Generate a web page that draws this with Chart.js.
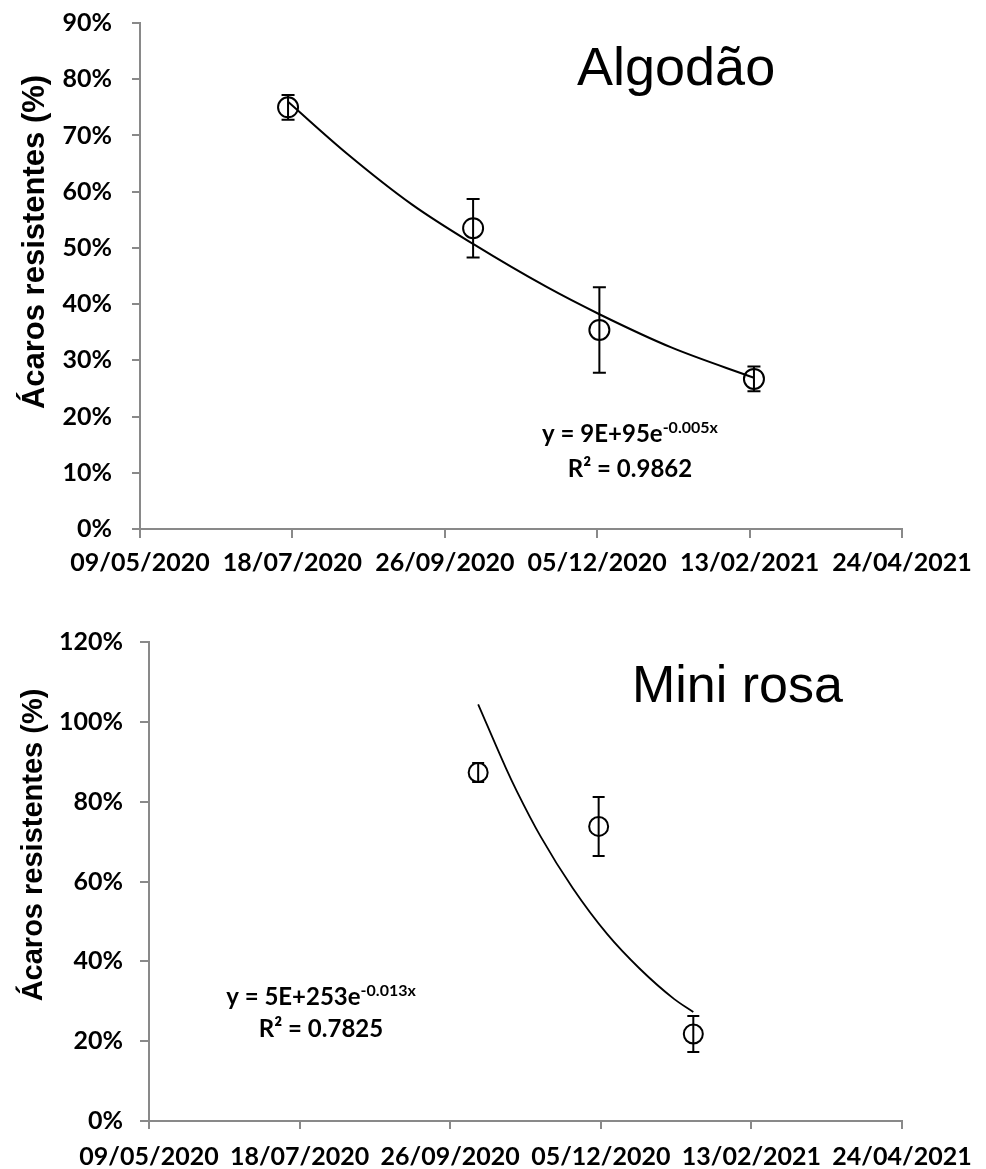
<!DOCTYPE html>
<html><head><meta charset="utf-8">
<script src="https://cdn.jsdelivr.net/npm/chart.js@4.4.0/dist/chart.umd.min.js"></script>
<style>
html,body{margin:0;padding:0;background:#fff;}
#wrap1{position:absolute;left:0;top:0;width:986px;height:585px;}
#wrap2{position:absolute;left:0;top:585px;width:986px;height:584px;}
canvas{display:block;}
</style></head><body>
<div id="wrap1"><canvas id="c1" width="986" height="585"></canvas></div>
<div id="wrap2"><canvas id="c2" width="986" height="584"></canvas></div>
<script>
// ---------- DATA ----------
const xTickLabels = ['09/05/2020','18/07/2020','26/09/2020','05/12/2020','13/02/2021','24/04/2021'];

const algodaoYTicks = [0,10,20,30,40,50,60,70,80,90];
const algodaoDates  = ['16/07/2020','09/10/2020','06/12/2020','15/02/2021'];
const algodaoValues = [75.0, 53.5, 35.4, 26.7];
const algodaoErrors = [2.2, 5.2, 7.6, 2.2];
const algodaoTrendDates  = ['16/07/2020','12/08/2020','11/09/2020','09/10/2020','12/11/2020','06/12/2020','08/01/2021','15/02/2021'];
const algodaoTrendValues = [76.0, 66.8, 57.7, 50.7, 43.0, 38.2, 32.3, 26.9];

const miniYTicks = [0,20,40,60,80,100,120];
const miniDates  = ['09/10/2020','04/12/2020','17/01/2021'];
const miniValues = [87.3, 73.8, 21.8];
const miniErrors = [2.4, 7.4, 4.5];
const miniTrendDates  = ['09/10/2020','22/10/2020','27/10/2020','07/11/2020','22/11/2020','08/12/2020','23/12/2020','08/01/2021','17/01/2021'];
const miniTrendValues = [104.4, 88.3, 82.6, 71.3, 58.3, 46.8, 38.2, 30.6, 27.3];

const yTitle = 'Ácaros resistentes (%)';

// ---------- HELPERS ----------
function toDay(s){ const [d,m,y] = s.split('/').map(Number); return Date.UTC(y, m-1, d) / 864e5; }
const AXIS_GRAY = '#898989';
const TICK_FONT = {family:'Lato, "Open Sans", sans-serif', weight:'bold', size:25};

function makeChart(id, cfg){
  const pts = cfg.dates.map((d,i)=>({x: toDay(d), y: cfg.values[i]}));
  const trend = cfg.trendDates.map((d,i)=>({x: toDay(d), y: cfg.trendValues[i]}));
  const plug = {
    id: 'extras_'+id,
    afterDatasetsDraw(chart){
      const {ctx, scales:{x, y}} = chart;
      ctx.save();
      ctx.strokeStyle = '#000'; ctx.lineWidth = cfg.markLW;
      cfg.dates.forEach((d,i)=>{
        const px = x.getPixelForValue(toDay(d));
        const v = cfg.values[i], e = cfg.errors[i];
        const pt = y.getPixelForValue(v+e), pb = y.getPixelForValue(v-e);
        ctx.beginPath();
        ctx.moveTo(px, pt); ctx.lineTo(px, pb);
        ctx.moveTo(px-cfg.cap, pt); ctx.lineTo(px+cfg.cap, pt);
        ctx.moveTo(px-cfg.cap, pb); ctx.lineTo(px+cfg.cap, pb);
        ctx.stroke();
      });
      ctx.restore();
    },
    afterDraw(chart){
      const ctx = chart.ctx;
      ctx.save();
      ctx.fillStyle = '#000';
      ctx.font = cfg.titleSize + 'px "Liberation Sans", Arial, sans-serif';
      ctx.textAlign = 'left'; ctx.textBaseline = 'alphabetic';
      ctx.fillText(cfg.title, cfg.titleX, cfg.titleY);
      const mainF = 'bold 24px Lato, "Open Sans", sans-serif';
      const supF = 'bold 16px Lato, "Open Sans", sans-serif';
      ctx.font = mainF; const w1 = ctx.measureText(cfg.eqMain).width;
      ctx.font = supF; const w2 = ctx.measureText(cfg.eqSup).width;
      const sx = cfg.eqX - (w1+w2)/2;
      ctx.font = mainF; ctx.fillText(cfg.eqMain, sx, cfg.eqY1);
      ctx.font = supF; ctx.fillText(cfg.eqSup, sx + w1, cfg.eqY1 - 9);
      ctx.font = mainF; ctx.textAlign = 'center';
      ctx.fillText(cfg.r2, cfg.eqX, cfg.eqY2);
      ctx.translate(cfg.ytX, cfg.ytY);
      ctx.rotate(-Math.PI/2);
      ctx.font = 'bold ' + cfg.ytSize + 'px "Liberation Sans", Arial, sans-serif';
      ctx.textAlign = 'center'; ctx.textBaseline = 'alphabetic';
      ctx.fillText(yTitle, 0, 0);
      ctx.restore();
    }
  };
  return new Chart(document.getElementById(id), {
    type: 'scatter',
    data: { datasets: [
      { data: trend, showLine: true, borderColor: '#000', borderWidth: cfg.trendLW, pointRadius: 0, cubicInterpolationMode: 'monotone', fill: false },
      { data: pts, showLine: false, pointStyle: 'circle', pointRadius: cfg.r, pointBorderWidth: cfg.markLW, pointBorderColor: '#000', pointBackgroundColor: 'rgba(0,0,0,0)' }
    ]},
    options: {
      responsive: false, animation: false, events: [],
      layout: { padding: { left: 0, top: cfg.top, right: cfg.right, bottom: 0 } },
      plugins: { legend: {display:false}, tooltip: {enabled:false} },
      scales: {
        x: {
          type: 'linear', min: toDay(xTickLabels[0]), max: toDay(xTickLabels[xTickLabels.length-1]),
          afterBuildTicks: s => { s.ticks = xTickLabels.map(l => ({value: toDay(l)})); },
          afterFit: s => { s.height = cfg.xH; s.paddingLeft = 0; s.paddingRight = 0; },
          ticks: { autoSkip:false, maxRotation:0, minRotation:0, padding: cfg.xPad, color:'#000', font: TICK_FONT,
                   callback: (v,i) => xTickLabels[i] },
          grid: { drawOnChartArea:false, drawTicks:true, tickLength: cfg.xTL, color: AXIS_GRAY, lineWidth: 2 },
          border: { color: AXIS_GRAY, width: 2 }
        },
        y: {
          type: 'linear', min: cfg.yTicks[0], max: cfg.yTicks[cfg.yTicks.length-1],
          afterBuildTicks: s => { s.ticks = cfg.yTicks.map(v => ({value: v})); },
          afterFit: s => { s.width = cfg.left; s.paddingTop = 0; s.paddingBottom = 0; },
          ticks: { autoSkip:false, padding: cfg.yPad, color:'#000', font: TICK_FONT, callback: v => v + '%' },
          grid: { drawOnChartArea:false, drawTicks:true, tickLength: cfg.yTL, color: AXIS_GRAY, lineWidth: 2 },
          border: { color: AXIS_GRAY, width: 2 }
        }
      }
    },
    plugins: [plug]
  });
}

makeChart('c1', {
  dates: algodaoDates, values: algodaoValues, errors: algodaoErrors,
  trendDates: algodaoTrendDates, trendValues: algodaoTrendValues, yTicks: algodaoYTicks,
  top: 23, right: 84, left: 140, xH: 56, xPad: 10, xTL: 9, yPad: 20, yTL: 8,
  r: 10, markLW: 2, cap: 6.5, trendLW: 2,
  title: 'Algodão', titleSize: 54, titleX: 577, titleY: 85,
  eqMain: 'y = 9E+95e', eqSup: '-0.005x', r2: 'R² = 0.9862', eqX: 630, eqY1: 442, eqY2: 477,
  ytX: 44, ytY: 242, ytSize: 31
});
makeChart('c2', {
  dates: miniDates, values: miniValues, errors: miniErrors,
  trendDates: miniTrendDates, trendValues: miniTrendValues, yTicks: miniYTicks,
  top: 57, right: 84, left: 149, xH: 48, xPad: 13, xTL: 8, yPad: 17, yTL: 9,
  r: 9.5, markLW: 2, cap: 6, trendLW: 1.8,
  title: 'Mini rosa', titleSize: 52, titleX: 632, titleY: 117,
  eqMain: 'y = 5E+253e', eqSup: '-0.013x', r2: 'R² = 0.7825', eqX: 321, eqY1: 420, eqY2: 452,
  ytX: 42, ytY: 260, ytSize: 29
});
</script>
</body></html>
